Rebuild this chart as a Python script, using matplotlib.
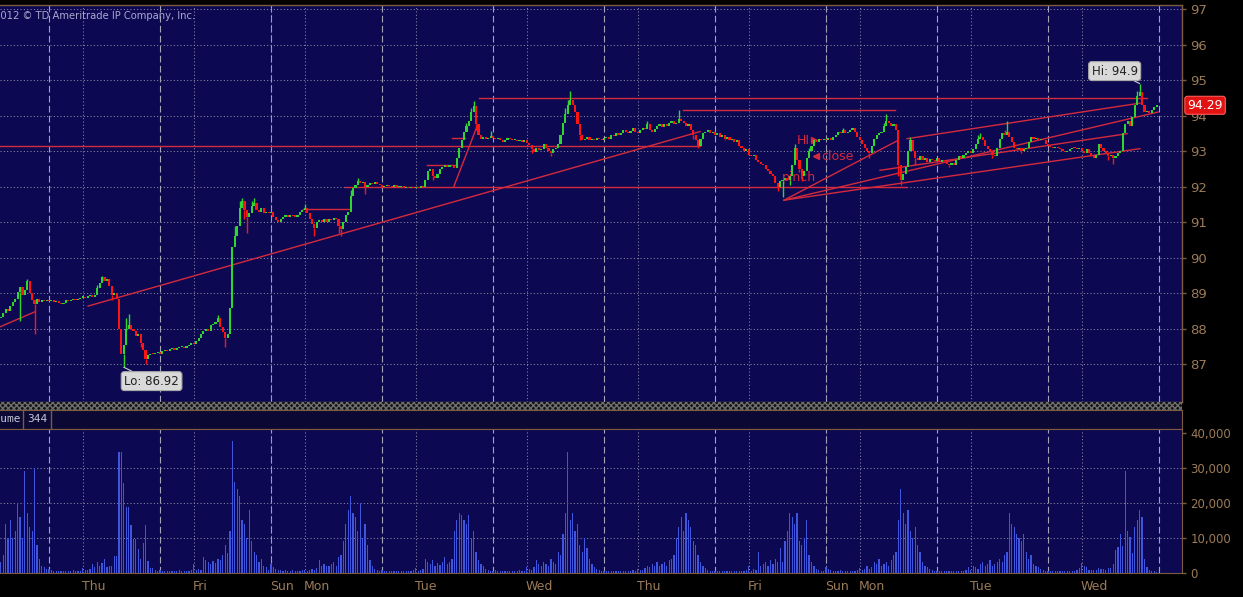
import matplotlib
matplotlib.use("Agg")
import matplotlib.pyplot as plt
from matplotlib import font_manager
from matplotlib.patches import Rectangle
import matplotlib.transforms as mtrans
import numpy as np

W, H = 1243, 597
NAVY = '#0c0952'
BROWN = '#7d5c3e'
TICKC = '#9b7b58'
GRID = '#8a8aa4'
UP = '#2fd62f'
DN = '#ff1414'
TREND = '#d42a3c'
VOLC = '#3f55de'

names = {f.name for f in font_manager.fontManager.ttflist}
NARROW = 'Liberation Sans Narrow' if 'Liberation Sans Narrow' in names else 'DejaVu Sans'

# ---------------- data (30-min bars) ----------------
close_wed0 = [88.34, 88.45, 88.55, 88.50, 88.65, 88.75, 88.85, 89.05, 89.17, 88.95,
              89.10, 89.35, 89.00, 88.80, 88.70, 88.85, 88.75, 88.80, 88.78, 88.82]
close_thu1 = [88.78, 88.80, 88.76, 88.79, 88.74, 88.70, 88.74, 88.80, 88.78, 88.82,
              88.85, 88.80, 88.84, 88.88, 88.90, 88.86, 88.92, 88.95, 88.90, 88.96,
              89.15, 89.30, 89.45, 89.35, 89.40, 89.20, 88.95, 89.00, 88.85, 88.00,
              87.30, 87.55, 88.00, 88.10, 88.00, 87.95, 87.80, 87.85, 87.60, 87.40,
              87.15, 87.25, 87.30, 87.28, 87.32, 87.35]
close_fri1 = [87.30, 87.38, 87.40, 87.38, 87.42, 87.45, 87.40, 87.45, 87.48, 87.50,
              87.45, 87.52, 87.55, 87.60, 87.58, 87.65, 87.75, 87.85, 87.95, 88.00,
              87.95, 88.10, 88.15, 88.20, 88.30, 88.05, 87.90, 87.75, 87.85, 88.60,
              90.30, 90.60, 90.90, 91.40, 91.60, 91.35, 91.15, 91.25, 91.45, 91.55,
              91.35, 91.30, 91.40, 91.25, 91.30, 91.25]
close_mon1 = [91.30, 91.15, 91.05, 91.00, 91.10, 91.15, 91.20, 91.15, 91.20, 91.18,
              91.16, 91.20, 91.30, 91.35, 91.40, 91.25, 91.10, 90.95, 90.85, 91.00,
              91.05, 91.00, 91.08, 91.02, 91.10, 91.05, 91.12, 91.08, 90.90, 90.80,
              91.00, 91.20, 91.30, 91.75, 91.95, 92.05, 92.15, 92.10, 92.12, 92.00,
              92.05, 92.10, 92.08, 92.12, 92.08, 92.05]
close_tue1 = [92.00, 92.02, 92.06, 92.03, 92.00, 92.05, 91.98, 92.00, 92.02, 91.97,
              92.00, 91.95, 91.98, 91.96, 92.00, 91.95, 92.02, 92.00, 92.20, 92.45,
              92.50, 92.30, 92.25, 92.35, 92.50, 92.55, 92.60, 92.55, 92.60, 92.58,
              92.52, 92.80, 93.10, 93.30, 93.55, 93.70, 93.85, 94.10, 94.28, 93.75,
              93.45, 93.35, 93.40, 93.35, 93.38, 93.42]
close_wed1 = [93.38, 93.35, 93.38, 93.30, 93.25, 93.30, 93.36, 93.33, 93.30, 93.32,
              93.28, 93.30, 93.27, 93.30, 93.22, 93.18, 93.05, 92.98, 93.10, 93.02,
              93.05, 93.20, 93.10, 93.00, 92.95, 93.05, 93.10, 93.20, 93.45, 93.80,
              94.05, 94.30, 94.45, 94.30, 94.10, 93.75, 93.45, 93.30, 93.35, 93.40,
              93.30, 93.35, 93.30, 93.38, 93.35, 93.30]
close_thu2 = [93.36, 93.40, 93.35, 93.45, 93.42, 93.50, 93.45, 93.52, 93.60, 93.55,
              93.50, 93.58, 93.65, 93.55, 93.50, 93.60, 93.65, 93.62, 93.75, 93.60,
              93.55, 93.62, 93.70, 93.75, 93.68, 93.75, 93.70, 93.78, 93.85, 93.75,
              93.80, 93.90, 93.85, 93.80, 93.70, 93.75, 93.60, 93.45, 93.30, 93.15,
              93.35, 93.50, 93.55, 93.60, 93.50, 93.55]
close_fri2 = [93.45, 93.50, 93.40, 93.45, 93.35, 93.40, 93.30, 93.35, 93.25, 93.30,
              93.15, 93.10, 93.00, 93.05, 92.90, 92.85, 92.90, 92.75, 92.70, 92.65,
              92.60, 92.50, 92.45, 92.35, 92.30, 92.10, 92.00, 92.15, 92.20, 92.25,
              92.20, 92.30, 92.60, 93.10, 92.75, 92.50, 92.30, 92.45, 92.80, 93.00,
              93.15, 93.30, 93.25, 93.35, 93.30, 93.35]
close_mon2 = [93.30, 93.38, 93.32, 93.40, 93.45, 93.55, 93.50, 93.60, 93.50, 93.55,
              93.60, 93.65, 93.55, 93.40, 93.30, 93.20, 93.10, 93.00, 92.95, 93.15,
              93.35, 93.45, 93.50, 93.55, 93.70, 93.85, 93.80, 93.70, 93.75, 93.60,
              92.60, 92.20, 92.35, 92.55, 93.00, 93.30, 93.00, 92.80, 92.75, 92.85,
              92.75, 92.80, 92.70, 92.78, 92.75, 92.72]
close_tue2 = [92.80, 92.70, 92.75, 92.72, 92.65, 92.60, 92.68, 92.62, 92.75, 92.85,
              92.80, 92.90, 92.95, 93.00, 92.95, 93.05, 93.20, 93.35, 93.40, 93.30,
              93.15, 93.05, 93.00, 92.90, 92.85, 93.10, 93.35, 93.50, 93.45, 93.55,
              93.40, 93.25, 93.10, 93.05, 93.10, 93.00, 93.05, 93.10, 93.25, 93.40,
              93.35, 93.38, 93.30, 93.35, 93.30, 93.20]
close_wed2 = [93.15, 93.12, 93.10, 93.12, 93.08, 93.05, 93.00, 92.98, 93.00, 93.05,
              93.10, 93.08, 93.05, 93.10, 93.00, 92.95, 93.05, 92.95, 92.85, 92.80,
              92.90, 93.20, 93.10, 93.00, 92.95, 92.85, 92.88, 92.80, 92.85, 92.95,
              93.00, 93.50, 93.75, 93.85, 93.70, 93.95, 94.30, 94.55, 94.65, 94.30,
              94.10, 94.12, 94.08, 94.15, 94.25, 94.29]

# notable wick extremes (bar index -> price)
wick_highs = {11: 89.40, 40: 89.22, 42: 89.48, 45: 89.38, 52: 88.30, 53: 88.42,
              90: 88.40, 97: 90.90, 99: 91.60, 100: 91.68, 104: 91.60, 105: 91.68,
              126: 91.50, 145: 91.90, 148: 92.25, 193: 93.80, 195: 94.20, 196: 94.40,
              203: 93.57, 234: 94.20, 235: 94.45, 236: 94.69, 268: 93.85, 281: 94.15,
              329: 93.20, 335: 93.10, 349: 93.65, 366: 93.80, 367: 94.05, 377: 93.41,
              405: 93.45, 406: 93.50, 416: 93.60, 417: 93.85, 471: 94.70, 472: 94.90,
              473: 94.50}
wick_lows = {8: 88.23, 14: 87.86, 46: 88.80, 51: 86.92, 58: 87.50, 60: 87.02,
             93: 87.50, 101: 91.10, 102: 90.70, 130: 90.60, 140: 90.70, 141: 90.60,
             151: 91.80, 179: 92.20, 197: 93.60, 220: 92.95, 228: 92.85, 240: 93.30,
             287: 93.35, 289: 93.10, 300: 93.30, 322: 91.87, 324: 91.70, 327: 92.05,
             331: 92.40, 332: 92.15, 360: 92.80, 372: 92.30, 373: 92.04, 379: 92.60,
             393: 92.55, 411: 92.80, 423: 92.95, 459: 92.75, 461: 92.65}

# volume in thousands of contracts
vol_wed0 = [3.0, 5.0, 14.0, 10.0, 15.0, 10.0, 12.0, 20.0, 16.0, 10.0,
            29.0, 17.0, 13.0, 12.0, 30.0, 8.0, 4.0, 2.0, 1.5, 1.0]
vol_thu1 = [1.0, 0.6, 0.5, 0.4, 0.5, 0.3, 0.4, 0.5, 0.3, 0.4, 0.6, 0.5,
            0.5, 0.4, 1.2, 0.8, 0.6, 1.0,
            2.5, 1.5, 3.0, 2.0, 2.6, 4.0, 1.5, 2.0, 1.8, 4.6, 4.6,
            34.6, 34.6, 25.7, 18.9, 18.9, 13.7, 9.7, 9.7, 6.8, 4.0, 8.6, 13.7, 3.4,
            1.4, 1.4, 0.8, 0.5]
vol_fri1 = [0.8, 0.5, 0.4, 0.3, 0.5, 0.4, 0.3, 0.5, 0.6, 0.4, 0.3, 0.5,
            0.5, 0.8, 2.5, 0.6, 1.0, 0.7,
            4.5, 3.5, 3.0, 2.5, 3.2, 2.8, 4.0, 3.5, 5.0, 8.0, 5.5,
            12.0, 37.7, 26.0, 24.0, 22.0, 15.0, 14.0, 10.0, 18.0, 9.0, 6.0, 5.0, 3.0,
            4.0, 2.0, 1.5, 0.8]
vol_mon1 = [2.5, 1.5, 1.0, 0.8, 0.6, 0.5, 0.7, 0.4, 0.5, 0.6, 0.4, 0.3, 0.5, 0.6,
            0.8, 0.5, 0.6, 1.0, 0.8, 1.2,
            3.5, 2.0, 2.5, 2.0, 1.8, 2.5, 3.0, 2.0, 4.5, 5.0,
            9.0, 14.0, 18.0, 22.0, 17.0, 16.0, 12.0, 20.0, 10.0, 14.0, 8.0, 3.5,
            2.0, 1.0, 0.6, 0.5]
vol_tue1 = [0.6, 0.5, 0.4, 0.3, 0.5, 0.4, 0.3, 0.4, 0.5, 0.3, 0.4, 0.5,
            0.4, 0.6, 1.2, 0.5, 0.8, 1.0,
            4.0, 3.0, 2.5, 3.5, 2.0, 2.8, 2.2, 3.0, 4.5, 2.5, 3.0, 4.0,
            12.0, 15.0, 17.0, 16.5, 15.0, 14.0, 16.5, 10.0, 12.0, 6.0, 3.5, 2.5,
            2.0, 1.0, 0.6, 0.5]
vol_wed1 = [0.5, 0.6, 0.4, 0.3, 0.4, 0.5, 0.3, 0.4, 0.3, 0.5, 0.4, 0.6,
            0.5, 0.4, 1.5, 1.0, 0.8, 1.5,
            3.5, 2.5, 2.0, 3.0, 2.5, 2.0, 4.0, 3.0, 2.5, 6.0, 5.0, 11.0,
            17.0, 34.5, 15.0, 17.0, 12.0, 14.0, 8.0, 6.0, 10.0, 7.0, 4.0, 2.5,
            1.5, 1.0, 0.6, 0.4]
vol_thu2 = [0.5, 0.4, 0.3, 0.5, 0.4, 0.3, 0.4, 0.5, 0.3, 0.4, 0.3, 0.5,
            0.6, 0.5, 1.0, 0.8, 0.6, 1.2,
            2.0, 1.5, 2.5, 2.0, 3.0, 1.8, 2.5, 3.0, 2.0, 3.5, 4.0, 5.0,
            10.0, 13.0, 16.0, 12.0, 17.0, 15.0, 13.0, 9.0, 8.0, 5.0, 3.0, 2.0,
            1.2, 0.8, 0.5, 0.4]
vol_fri2 = [0.5, 0.4, 0.3, 0.5, 0.4, 0.3, 0.4, 0.5, 0.3, 0.4, 0.3, 0.5,
            0.4, 0.6, 2.0, 0.5, 1.0, 0.8,
            6.0, 2.0, 2.5, 3.0, 2.0, 3.5, 2.5, 4.0, 3.0, 7.0, 3.0, 9.0,
            12.0, 17.0, 16.0, 14.0, 17.0, 9.0, 8.0, 10.0, 15.0, 5.0, 3.0, 2.0,
            1.0, 0.8, 0.5, 0.4]
vol_mon2 = [1.5, 1.0, 0.6, 0.5, 0.4, 0.5, 0.6, 0.4, 0.3, 0.5, 0.4, 0.3, 0.5, 0.6,
            1.2, 0.8, 1.0, 2.0, 1.0, 1.5,
            3.0, 2.5, 4.0, 2.0, 2.5, 3.0, 2.0, 3.5, 5.0, 6.0,
            15.0, 24.0, 17.0, 14.0, 18.0, 12.0, 10.0, 13.0, 8.0, 6.0, 3.0, 2.0,
            1.5, 1.0, 0.6, 0.4]
vol_tue2 = [0.5, 0.4, 0.3, 0.4, 0.5, 0.3, 0.4, 0.3, 0.5, 0.4, 0.3, 0.4,
            0.6, 1.5, 0.8, 2.0, 1.5, 1.0,
            2.5, 3.0, 2.0, 2.5, 3.5, 2.0, 2.5, 3.0, 4.0, 3.0, 5.0, 6.0,
            17.0, 14.0, 13.0, 11.0, 10.0, 9.0, 11.0, 6.0, 4.0, 5.0, 2.5, 2.0,
            1.5, 1.0, 0.6, 0.4]
vol_wed2 = [0.5, 0.4, 0.3, 0.4, 0.3, 0.5, 0.4, 0.3, 0.4, 0.3, 0.5, 0.4,
            0.7, 1.2, 2.7, 2.0, 1.7, 0.8,
            0.8, 0.7, 0.8, 1.2, 0.9, 1.0, 0.8, 1.2,
            1.2, 2.4, 6.5, 7.2, 11.1, 7.5, 29.2, 12.0, 10.3, 5.6, 13.2, 15.1, 18.0, 15.9,
            3.8, 1.7, 0.8, 0.3, 0.3, 0.2]

# session starts (6pm) and day labels (bar index)
session_starts = [20, 66, 112, 158, 204, 250, 296, 342, 388, 434, 480]
day_labels = ['Thu', 'Fri', 'Sun', 'Mon', 'Tue', 'Wed', 'Thu', 'Fri', 'Sun', 'Mon', 'Tue', 'Wed']
day_pos = [34, 80, 112, 126, 172, 218, 264, 310, 342, 356, 402, 448]

price_ticks = list(range(87, 98))
vol_ticks = [0, 10000, 20000, 30000, 40000]
vol_tick_labels = ['0', '10,000', '20,000', '30,000', '40,000']

# drawing-tool lines (bar index, price)
trend_lines = [
    ((-5, 93.156), (289.8, 93.156)),
    ((-5, 87.92), (14.2, 88.48)),
    ((36.2, 88.64), (289.8, 93.55)),
    ((198.2, 94.507), (475.0, 94.507)),
    ((282.7, 94.159), (370.6, 94.159)),
    ((142.7, 92.0), (375.2, 92.0)),
    ((125.3, 91.373), (144.7, 91.373)),
    ((176.7, 92.60), (189.1, 92.60)),
    ((187.0, 93.38), (192.4, 93.38)),
    ((187.8, 92.01), (197.0, 93.63)),
    ((324.6, 91.62), (371.8, 93.30)),
    ((324.6, 91.62), (479.6, 94.10)),
    ((324.6, 91.62), (472.1, 93.07)),
    ((375.6, 93.35), (472.1, 94.35)),
    ((364.4, 92.46), (466.8, 93.49)),
]

closes = (close_wed0 + close_thu1 + close_fri1 + close_mon1 + close_tue1 + close_wed1
          + close_thu2 + close_fri2 + close_mon2 + close_tue2 + close_wed2)
volumes = (vol_wed0 + vol_thu1 + vol_fri1 + vol_mon1 + vol_tue1 + vol_wed1
           + vol_thu2 + vol_fri2 + vol_mon2 + vol_tue2 + vol_wed2)
n = len(closes)
idx = np.arange(n)
c = np.array(closes)
o = np.concatenate([[88.30], c[:-1]])

PX0, PXD = 0.74, 2.413
def ix(px):
    return (px - PX0) / PXD

XL = (ix(0), ix(1182))
YL = (97 - 397 / 35.9, 97 + 4 / 35.9)

fig = plt.figure(figsize=(W / 100, H / 100), dpi=100, facecolor='black')

# ---------------- price panel ----------------
ax = fig.add_axes([0, 1 - 402 / H, 1182 / W, 397 / H])
ax.set_facecolor(NAVY)
ax.set_xlim(*XL)
ax.set_ylim(*YL)

for yv in price_ticks:
    ax.axhline(yv, color=GRID, lw=0.75, ls=(0, (1, 2.2)), zorder=1)
for s in session_starts:
    ax.axvline(s, color='#a4a4b8', lw=0.8, ls=(0, (6, 3)), zorder=1)
for dp in day_pos:
    ax.axvline(dp, color=GRID, lw=0.75, ls=(0, (1, 2.2)), zorder=1)

for (a, b) in trend_lines:
    ax.plot([a[0], b[0]], [a[1], b[1]], color=TREND, lw=1.0, zorder=2)

cols = np.where(c >= o, UP, DN)
for i, hv in wick_highs.items():
    ax.vlines(i, max(o[i], c[i]), hv, color=cols[i], lw=1.0, zorder=3)
for i, lv in wick_lows.items():
    ax.vlines(i, lv, min(o[i], c[i]), color=cols[i], lw=1.0, zorder=3)
bottom = np.minimum(o, c)
height = np.maximum(np.abs(c - o), 0.03)
ax.bar(idx, height, bottom=bottom, width=0.88, color=cols, linewidth=0, zorder=4)

ax.spines['left'].set_visible(False)
for sp in ['top', 'right', 'bottom']:
    ax.spines[sp].set_color(BROWN)
    ax.spines[sp].set_linewidth(1.0)
ax.set_xticks([])
ax.yaxis.tick_right()
ax.set_yticks(price_ticks)
ax.set_yticklabels([str(t) for t in price_ticks])
ax.tick_params(axis='y', colors=BROWN, labelcolor=TICKC, length=3, width=1,
               pad=3, labelsize=9.5)
for lab in ax.get_yticklabels():
    lab.set_fontfamily([NARROW, 'DejaVu Sans'])

# annotation texts (drawing tools)
ax.text(ix(797), 93.30, 'HI', color=TREND, fontsize=9, va='center', ha='left', zorder=2)
ax.plot([ix(814)], [93.30], marker='>', color=TREND, ms=5, zorder=2)
ax.text(ix(821), 92.85, 'close', color=TREND, fontsize=9, va='center', ha='left', zorder=2)
ax.plot([ix(816)], [92.85], marker='<', color=TREND, ms=5, zorder=2)
ax.text(ix(782), 92.26, 'pinch', color=TREND, fontsize=9, va='center', ha='left', zorder=2)

# Hi / Lo bubbles
ax.annotate('Hi: 94.9', xy=(472, 94.90), xytext=(-18, 9), textcoords='offset points',
            ha='center', va='center', fontsize=8.5, color='#202020',
            bbox=dict(boxstyle='round,pad=0.25', fc='#d9d9d9', ec='#a8a8a8', lw=0.8),
            arrowprops=dict(arrowstyle='-', color='#cfcfcf', lw=0.8, shrinkA=0, shrinkB=0),
            zorder=6)
ax.annotate('Lo: 86.92', xy=(51, 86.92), xytext=(20, -10), textcoords='offset points',
            ha='center', va='center', fontsize=8.5, color='#202020',
            bbox=dict(boxstyle='round,pad=0.25', fc='#d9d9d9', ec='#a8a8a8', lw=0.8),
            arrowprops=dict(arrowstyle='-', color='#cfcfcf', lw=0.8, shrinkA=0, shrinkB=0),
            zorder=6)

# last price tag
trans = mtrans.blended_transform_factory(ax.transAxes, ax.transData)
ax.text(1.0045, closes[-1], f'{closes[-1]:.2f}', transform=trans, ha='left', va='center',
        color='white', fontsize=9, clip_on=False,
        bbox=dict(boxstyle='round,pad=0.2', fc='#e01212', ec='#ff5a5a', lw=0.8), zorder=7)

fig.text(-6 / W, 1 - 16 / H, '2012 \u00a9 TD Ameritrade IP Company, Inc.', color='#a8a8cc',
         fontsize=7.2, ha='left', va='center')

# ---------------- separator ----------------
ax_sep = fig.add_axes([0, 1 - 410 / H, 1182 / W, 8 / H])
ax_sep.set_xlim(0, 1); ax_sep.set_ylim(0, 1)
ax_sep.add_patch(Rectangle((0, 0), 1, 1, transform=ax_sep.transAxes, fc='#111111',
                           ec='#6e6e6e', hatch='xxxxxx', lw=0))
ax_sep.axis('off')

# ---------------- volume header ----------------
ax_h = fig.add_axes([0, 1 - 429 / H, 1182 / W, 19 / H])
ax_h.set_facecolor('#0b0834')
ax_h.set_xticks([]); ax_h.set_yticks([])
ax_h.spines['left'].set_visible(False)
for sp in ['top', 'right', 'bottom']:
    ax_h.spines[sp].set_color(BROWN)
ax_h.set_xlim(0, 1182); ax_h.set_ylim(0, 1)
ax_h.text(-19, 0.5, 'Volume', color='#c8c8d8', fontsize=8, family='DejaVu Sans Mono',
          va='center', ha='left')
ax_h.text(27, 0.5, '344', color='#c8c8d8', fontsize=8, family='DejaVu Sans Mono',
          va='center', ha='left')
ax_h.axvline(23, color=BROWN, lw=1)
ax_h.axvline(51, color=BROWN, lw=1)

# ---------------- volume panel ----------------
axv = fig.add_axes([0, 1 - 572.5 / H, 1182 / W, 143.5 / H])
axv.set_facecolor(NAVY)
axv.set_xlim(*XL)
axv.set_ylim(0, 41200)
for yv in vol_ticks[1:4]:
    axv.axhline(yv, color=GRID, lw=0.75, ls=(0, (1, 2.2)), zorder=1)
for s in session_starts:
    axv.axvline(s, color='#a4a4b8', lw=0.8, ls=(0, (6, 3)), zorder=1)
for dp in day_pos:
    axv.axvline(dp, color=GRID, lw=0.75, ls=(0, (1, 2.2)), zorder=1)
axv.bar(idx, np.array(volumes) * 1000, width=0.5, color=VOLC, linewidth=0, zorder=3)
axv.spines['left'].set_visible(False)
for sp in ['top', 'right', 'bottom']:
    axv.spines[sp].set_color(BROWN)
axv.set_xticks([])
axv.yaxis.tick_right()
axv.set_yticks(vol_ticks)
axv.set_yticklabels(vol_tick_labels)
axv.tick_params(axis='y', colors=BROWN, labelcolor=TICKC, length=3, width=1,
                pad=3, labelsize=8.5)
for lab in axv.get_yticklabels():
    lab.set_fontfamily([NARROW, 'DejaVu Sans'])

transv = mtrans.blended_transform_factory(axv.transData, axv.transAxes)
for lab, dp in zip(day_labels, day_pos):
    axv.text(dp - 0.3, -14.5 / 143.5, lab, transform=transv, color=TICKC, fontsize=9,
             family=[NARROW, 'DejaVu Sans'], ha='left', va='center', clip_on=False)

fig.savefig('out.png', dpi=100, facecolor='black')
